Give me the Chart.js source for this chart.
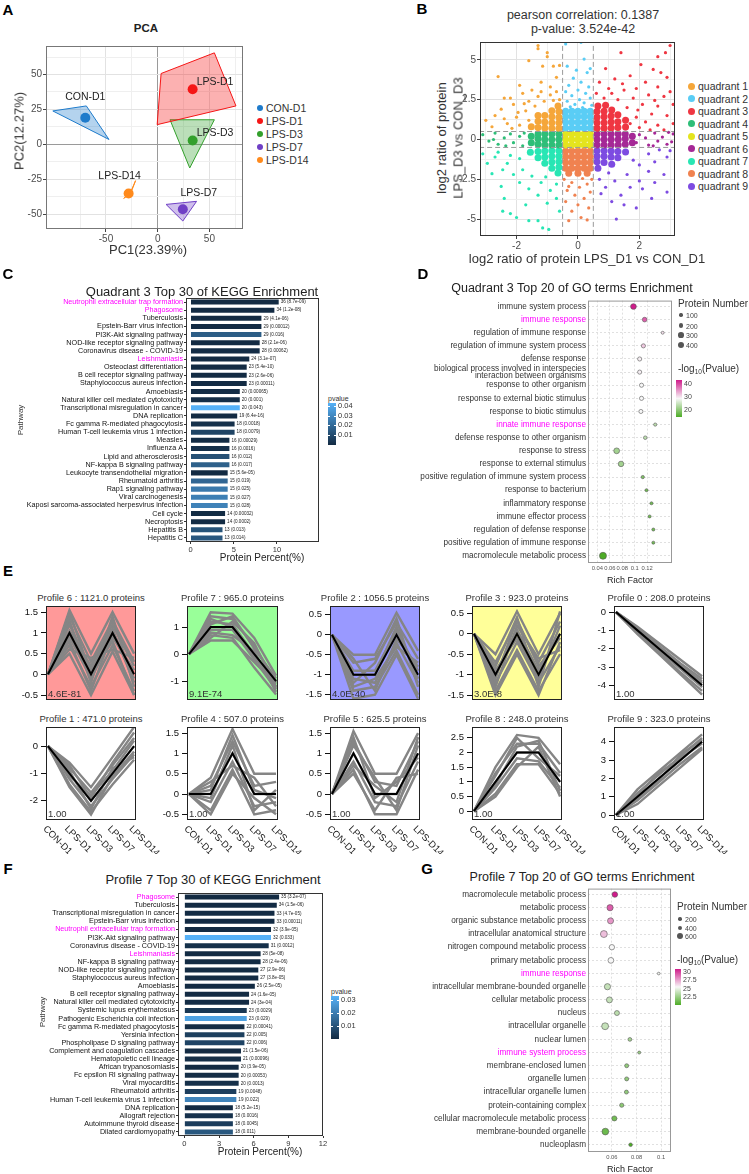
<!DOCTYPE html>
<html>
<head>
<meta charset="utf-8">
<title>Proteomics panels</title>
<script src="https://cdn.jsdelivr.net/npm/chart.js"></script>
<style>
  body { margin: 0; background: #fff; }
  #page { position: relative; width: 749px; height: 1174px; overflow: hidden; font-family: "Liberation Sans", Arial, sans-serif; color: #222; }
  .t { position: absolute; white-space: nowrap; line-height: 1; }
  .t sub { font-size: 65%; vertical-align: -2px; }
  .blk { position: absolute; }
</style>
</head>
<body>
<div id="page"></div>
<script>
// ---------- A: PCA ----------
const pcaGroups = ['CON-D1', 'LPS-D1', 'LPS-D3', 'LPS-D7', 'LPS-D14'];
const pcaPC1 = [-70, 33.8, 33.8, 24.3, -28.1];
const pcaPC2 = [19, 39.4, 2.8, -46.5, -35.2];
const pcaHulls = [
  [[-101.4, 23.9], [-69, 27.5], [-47.1, 3.5]],
  [[3.3, 50.7], [54.8, 65.5], [75.7, 27.5], [-0.5, 14.1]],
  [[11.9, 17.6], [54.8, 17.6], [31, -16.9]],
  [[8.1, -43], [37.6, -40.8], [24.3, -54.9]],
  [[-21.4, -26], [-25.5, -34], [-32.9, -38.7], [-27, -35.5]]
];

// ---------- B: quadrant scatter ----------
const quadNames = ['quadrant 1', 'quadrant 2', 'quadrant 3', 'quadrant 4', 'quadrant 5', 'quadrant 6', 'quadrant 7', 'quadrant 8', 'quadrant 9'];
const q1 = [[-1.3,5.9],[-1.3,5.7],[-1.0,5.45],[-1.0,5.2],[-1.6,4.95],[-1.15,4.6],[-0.8,4.6],[-0.6,4.65],[-2.6,3.95],[-1.9,3.4],[-2.4,2.6],[-2.2,2.6],[-3.0,1.2],[-2.7,1.5],[-2.5,1.9],[-2.1,2.2],[-1.8,2.9],[-1.5,3.1],[-1.2,3.6],[-0.9,3.3],[-0.7,3.9],[-1.6,2.4],[-1.3,2.7],[-2.8,0.8],[-2.3,1.0],[-2.0,1.4],[-1.7,1.8],[-1.4,2.1],[-1.1,2.4],[-0.9,2.8],[-0.6,2.5],[-0.7,3.0],[-1.9,0.9],[-1.6,1.2],[-2.4,1.3],[-1.95,1.7],[-1.2,3.0],[-1.75,2.25],[-0.8,2.45],[-2.15,0.7]];
const q1Dense = [[-0.62,0.7],[-0.85,0.7],[-1.08,0.72],[-1.3,0.75],[-1.52,0.8],[-0.62,1.05],[-0.85,1.05],[-1.08,1.1],[-1.3,1.15],[-0.62,1.4],[-0.85,1.42],[-1.08,1.5],[-0.62,1.75],[-0.85,1.8],[-0.65,2.1],[-1.3,1.5]];
const q2 = [[-0.4,6.0],[0.1,6.1],[0.2,5.05],[-0.35,4.6],[-0.05,4.35],[0.4,4.45],[0.3,4.2],[-0.15,3.85],[0.1,3.6],[-0.3,3.4],[0.35,3.3],[0.0,3.1],[-0.4,3.0],[0.25,2.9],[-0.2,2.75],[0.4,2.6],[0.05,2.5],[-0.35,2.4],[0.2,2.3],[-0.1,2.2],[0.45,2.15],[-0.25,2.05],[0.15,2.0]];
const q2Dense = [[-0.4,0.72],[-0.2,0.72],[0,0.72],[0.2,0.72],[0.4,0.72],[-0.4,1.08],[-0.2,1.08],[0,1.08],[0.2,1.08],[0.4,1.08],[-0.4,1.44],[-0.2,1.44],[0,1.44],[0.2,1.44],[0.4,1.44],[-0.4,1.78],[-0.2,1.78],[0,1.78],[0.2,1.78],[0.4,1.78]];
const q3 = [[3.0,5.9],[2.85,5.45],[2.6,5.2],[2.05,4.7],[1.4,5.45],[0.9,4.45],[2.45,4.4],[2.7,4.2],[2.9,3.9],[1.7,4.0],[1.2,3.8],[0.7,3.6],[2.2,3.6],[2.6,3.3],[3.0,3.0],[1.9,3.2],[1.5,3.1],[1.0,3.2],[0.6,2.9],[2.8,2.7],[2.3,2.8],[1.8,2.6],[1.3,2.5],[0.85,2.6],[3.1,2.2],[2.6,2.1],[2.1,2.2],[1.6,2.0],[2.9,1.5],[2.4,1.6],[1.9,1.4],[3.1,1.0],[2.6,0.9],[2.2,1.1],[2.8,0.6],[1.7,1.0],[2.0,0.75],[1.1,2.9],[2.35,0.6],[1.45,3.5],[2.5,2.45],[1.95,1.85]];
const q3Dense = [[0.62,0.7],[0.85,0.7],[1.08,0.72],[1.3,0.75],[1.55,0.78],[0.62,1.05],[0.85,1.05],[1.08,1.1],[1.3,1.12],[1.55,1.2],[0.62,1.4],[0.85,1.42],[1.08,1.48],[1.3,1.55],[0.62,1.75],[0.85,1.78],[1.1,1.85],[0.65,2.1],[0.9,2.15]];
const q4 = [[-3.1,0.3],[-2.9,-0.1],[-2.7,0.4],[-2.6,-0.3],[-2.4,0.1],[-2.2,0.35],[-2.1,-0.2],[-1.9,0.2],[-1.8,-0.4],[-1.75,0.4],[-2.35,-0.4],[-2.75,0.0]];
const q4Dense = [[-0.62,-0.35],[-0.62,0],[-0.62,0.35],[-0.85,-0.35],[-0.85,0],[-0.85,0.35],[-1.08,-0.35],[-1.08,0],[-1.08,0.35],[-1.3,-0.3],[-1.3,0.05],[-1.3,0.35],[-1.52,-0.2],[-1.52,0.2]];
const q5Dense = [[-0.4,-0.35],[-0.2,-0.35],[0,-0.35],[0.2,-0.35],[0.4,-0.35],[-0.4,0],[-0.2,0],[0,0],[0.2,0],[0.4,0],[-0.4,0.35],[-0.2,0.35],[0,0.35],[0.2,0.35],[0.4,0.35]];
const q6 = [[3.1,0.35],[2.9,-0.3],[2.75,0.15],[2.6,-0.1],[2.5,0.4],[2.3,-0.35],[2.2,0.1],[2.0,0.3],[1.9,-0.2],[2.95,0.45],[2.45,-0.4],[3.05,-0.15]];
const q6Dense = [[0.62,-0.35],[0.62,0],[0.62,0.35],[0.85,-0.35],[0.85,0],[0.85,0.35],[1.08,-0.35],[1.08,0],[1.08,0.35],[1.31,-0.35],[1.31,0],[1.31,0.35],[1.54,-0.3],[1.54,0.05],[1.54,0.35],[1.77,-0.2],[1.77,0.2]];
const q7 = [[-2.95,-1.5],[-2.8,-2.15],[-2.5,-2.95],[-2.4,-3.7],[-2.45,-4.5],[-2.2,-4.65],[-1.7,-4.1],[-1.0,-4.0],[-0.6,-4.5],[-2.0,-4.9],[-1.6,-5.1],[-1.3,-5.1],[-1.15,-5.55],[-0.95,-5.65],[-3.1,-0.9],[-2.7,-1.1],[-2.3,-1.5],[-2.1,-2.2],[-1.9,-2.7],[-1.6,-3.1],[-1.3,-3.5],[-0.9,-3.2],[-0.7,-2.8],[-1.2,-2.7],[-1.8,-1.9],[-1.5,-2.3],[-2.2,-1.0],[-2.6,-0.8],[-1.9,-1.2],[-0.7,-3.7],[-1.05,-2.35],[-2.45,-1.9]];
const q7Dense = [[-0.62,-0.7],[-0.85,-0.7],[-1.08,-0.72],[-1.3,-0.75],[-1.55,-0.8],[-0.62,-1.05],[-0.85,-1.05],[-1.08,-1.1],[-1.3,-1.15],[-0.62,-1.4],[-0.85,-1.42],[-1.08,-1.5],[-0.62,-1.75],[-0.85,-1.8],[-0.65,-2.1]];
const q8 = [[0.1,-4.9],[0.3,-5.05],[-0.3,-5.1],[-0.2,-4.5],[0.35,-4.3],[0.0,-4.1],[-0.4,-3.9],[0.2,-3.7],[-0.1,-3.5],[0.4,-3.3],[-0.35,-3.2],[0.05,-3.0],[0.3,-2.8],[-0.2,-2.7],[0.45,-2.5],[-0.45,-2.5],[0.15,-2.45],[-0.3,-2.95]];
const q8Dense = [[-0.4,-0.72],[-0.2,-0.72],[0,-0.72],[0.2,-0.72],[0.4,-0.72],[-0.4,-1.08],[-0.2,-1.08],[0,-1.08],[0.2,-1.08],[0.4,-1.08],[-0.4,-1.44],[-0.2,-1.44],[0,-1.44],[0.2,-1.44],[0.4,-1.44],[-0.4,-1.8],[-0.2,-1.8],[0,-1.8],[0.2,-1.8],[0.4,-1.8],[-0.3,-2.12],[0,-2.12],[0.3,-2.12]];
const q9 = [[2.9,-3.3],[2.5,-2.7],[2.8,-2.2],[2.3,-2.0],[2.0,-2.6],[1.7,-3.0],[1.4,-3.5],[1.1,-3.9],[1.9,-4.3],[1.25,-5.0],[2.4,-3.7],[0.9,-3.0],[0.7,-2.5],[1.2,-2.6],[1.6,-2.2],[2.0,-1.6],[2.5,-1.4],[2.9,-1.1],[3.0,-0.7],[1.8,-1.3],[1.0,-2.1],[0.75,-3.4],[2.1,-3.1],[1.5,-4.1],[2.3,-0.9],[2.65,-0.65]];
const q9Dense = [[0.62,-0.7],[0.85,-0.7],[1.08,-0.72],[1.3,-0.75],[1.55,-0.78],[0.62,-1.05],[0.85,-1.05],[1.08,-1.1],[1.3,-1.15],[0.62,-1.4],[0.85,-1.45],[1.1,-1.55],[0.65,-1.8]];
const quadSets = [[q1, q1Dense], [q2, q2Dense], [q3, q3Dense], [q4, q4Dense], [[], q5Dense], [q6, q6Dense], [q7, q7Dense], [q8, q8Dense], [q9, q9Dense]];
const cutX = [-0.5, 0.5];
const cutY = [-0.5, 0.5];

// ---------- C: quadrant 3 KEGG ----------
const keggC = ['Neutrophil extracellular trap formation', 'Phagosome', 'Tuberculosis', 'Epstein-Barr virus infection', 'PI3K-Akt signaling pathway', 'NOD-like receptor signaling pathway', 'Coronavirus disease - COVID-19', 'Leishmaniasis', 'Osteoclast differentiation', 'B cell receptor signaling pathway', 'Staphylococcus aureus infection', 'Amoebiasis', 'Natural killer cell mediated cytotoxicity', 'Transcriptional misregulation in cancer', 'DNA replication', 'Fc gamma R-mediated phagocytosis', 'Human T-cell leukemia virus 1 infection', 'Measles', 'Influenza A', 'Lipid and atherosclerosis', 'NF-kappa B signaling pathway', 'Leukocyte transendothelial migration', 'Rheumatoid arthritis', 'Rap1 signaling pathway', 'Viral carcinogenesis', 'Kaposi sarcoma-associated herpesvirus infection', 'Cell cycle', 'Necroptosis', 'Hepatitis B', 'Hepatitis C'];
const keggCCount = [36, 34, 29, 29, 29, 28, 28, 24, 23, 23, 23, 20, 20, 20, 19, 18, 18, 16, 16, 16, 16, 15, 15, 15, 15, 15, 14, 14, 13, 13];
const keggCPct = [10.2, 9.7, 8.2, 8.2, 8.2, 8.0, 8.0, 6.8, 6.5, 6.5, 6.5, 5.7, 5.7, 5.7, 5.4, 5.1, 5.1, 4.5, 4.5, 4.5, 4.5, 4.3, 4.3, 4.3, 4.3, 4.3, 4.0, 4.0, 3.7, 3.7];
const keggCP = ['8.7e-09', '1.2e-08', '4.1e-06', '0.00012', '0.016', '2.1e-06', '0.00062', '3.1e-07', '5.4e-10', '2.6e-06', '0.00011', '0.00065', '0.001', '0.043', '6.4e-16', '0.0018', '0.0079', '0.00029', '0.0016', '0.012', '0.017', '5.6e-05', '0.019', '0.025', '0.027', '0.028', '0.00032', '0.0002', '0.013', '0.014'];
const keggCHighlight = [0, 1, 7];
const keggCTicks = [0, 5, 10];

// ---------- D: quadrant 3 GO ----------
const goD = ['immune system process', 'immune response', 'regulation of immune response', 'regulation of immune system process', 'defense response', ['biological process involved in interspecies', 'interaction between organisms'], 'response to other organism', 'response to external biotic stimulus', 'response to biotic stimulus', 'innate immune response', 'defense response to other organism', 'response to stress', 'response to external stimulus', 'positive regulation of immune system process', 'response to bacterium', 'inflammatory response', 'immune effector process', 'regulation of defense response', 'positive regulation of immune response', 'macromolecule metabolic process'];
const goDRich = [0.098, 0.116, 0.145, 0.114, 0.108, 0.108, 0.111, 0.111, 0.110, 0.133, 0.117, 0.071, 0.078, 0.113, 0.119, 0.127, 0.124, 0.130, 0.130, 0.049];
const goDNum = [300, 200, 80, 160, 160, 160, 160, 160, 155, 95, 120, 310, 280, 100, 85, 85, 85, 85, 85, 450];
const goDLogP = [42.3, 38, 29.5, 31, 28.5, 28.5, 28, 28, 28, 23, 23, 21, 21, 18, 17, 17, 17, 17, 17, 13.8];
const goDHighlight = [1, 9];
const goDTicks = [0.04, 0.06, 0.08, 0.1, 0.12];

// ---------- E: expression profiles ----------
const timePoints = ['CON-D1', 'LPS-D1', 'LPS-D3', 'LPS-D7', 'LPS-D14'];
const profTitles = ['Profile 6 : 1121.0 proteins', 'Profile 7 : 965.0 proteins', 'Profile 2 : 1056.5 proteins', 'Profile 3 : 923.0 proteins', 'Profile 0 : 208.0 proteins', 'Profile 1 : 471.0 proteins', 'Profile 4 : 507.0 proteins', 'Profile 5 : 625.5 proteins', 'Profile 8 : 248.0 proteins', 'Profile 9 : 323.0 proteins'];
const profP = ['4.6E-81', '9.1E-74', '4.0E-40', '3.0E-8', '1.00', '1.00', '1.00', '1.00', '1.00', '1.00'];
const profMean = [[0,1,0,1,0],[0,1,1,0,-1],[0,-1,-1,0,-1],[0,-1,0,-1,0],[0,-1,-2,-3,-4],[0,-1,-2,-1,0],[0,0,1,0,0],[0,1,0,0,1],[0,1,2,2,1],[0,1,2,3,4]];
const profMembers = [
  [[0,1.55,0.5,1.5,0.5],[0,1.4,0.3,1.3,0.3],[0,1.2,0.1,1.1,-0.2],[0,0.9,-0.1,0.9,0.1],[0,0.7,-0.3,0.7,-0.4],[0,0.5,-0.5,0.55,-0.5],[0,1.3,-0.2,1.4,-0.3],[0,0.6,0.4,0.6,0.4],[0,1.05,0.2,1.2,0.2],[0,0.8,-0.4,1.0,-0.1],[0,1.5,0.0,0.8,-0.5]],
  [[0,1.55,1.5,0.6,-0.8],[0,1.4,1.3,0.3,-1.0],[0,1.2,1.1,0,-1.2],[0,0.9,0.9,-0.2,-1.3],[0,0.7,0.6,-0.5,-1.5],[0,0.5,0.5,-0.3,-1.1],[0,1.1,1.4,0.2,-0.9],[0,0.8,0.7,0.1,-1.4],[0,1.3,1.0,-0.1,-1.05],[0,0.6,1.2,0.4,-1.25]],
  [[0,-0.5,-0.5,0.55,-0.4],[0,-0.7,-0.6,0.3,-0.6],[0,-0.9,-0.9,0.1,-0.9],[0,-1.1,-1.2,-0.2,-1.2],[0,-1.4,-1.3,-0.4,-1.5],[0,-1.6,-1.5,-0.5,-1.6],[0,-1.2,-0.7,0.4,-1.3],[0,-0.6,-1.4,-0.1,-0.8],[0,-1.0,-1.0,0.2,-1.1],[0,-1.3,-1.1,-0.3,-0.7]],
  [[0,-0.5,0.55,-0.5,0.5],[0,-0.7,0.3,-0.7,0.3],[0,-1.0,0.1,-0.9,0],[0,-1.2,-0.2,-1.2,-0.3],[0,-1.4,-0.4,-1.4,-0.5],[0,-1.5,-0.5,-1.5,-0.2],[0,-0.8,0.4,-1.3,0.55],[0,-1.3,0.2,-0.6,-0.4],[0,-0.9,-0.1,-1.1,0.2],[0,-1.1,0.35,-0.8,-0.1]],
  [[0,-0.8,-1.7,-2.6,-3.5],[0,-1.0,-1.9,-2.9,-3.8],[0,-1.1,-2.1,-3.1,-4.1],[0,-1.2,-2.3,-3.4,-4.5],[0,-0.9,-2.0,-3.0,-3.9],[0,-1.1,-2.2,-3.3,-4.3],[0,-0.85,-1.85,-2.8,-3.65]],
  [[0,-0.6,-1.5,-0.4,0.7],[0,-0.8,-1.7,-0.7,0.3],[0,-1.0,-2.0,-1.0,0],[0,-1.2,-2.2,-1.2,-0.3],[0,-1.4,-2.4,-1.4,-0.5],[0,-1.5,-2.5,-1.1,-0.2],[0,-0.7,-1.9,-0.6,0.5],[0,-1.1,-1.8,-0.9,0.2],[0,-0.9,-2.3,-0.8,-0.4]],
  [[0,0.4,1.6,0.5,0.5],[0,0.2,1.3,0.2,0.3],[0,0,1.0,0,0],[0,-0.2,0.8,-0.3,-0.2],[0,-0.4,0.6,-0.5,-0.4],[0,-0.5,0.5,-0.1,-0.5],[0,0.3,0.7,0.4,-0.3],[0,-0.1,1.2,-0.4,0.1],[0,0.1,1.45,0.1,-0.1]],
  [[0,1.55,0.5,0.5,1.5],[0,1.3,0.3,0.2,1.3],[0,1.0,0,0,1.0],[0,0.8,-0.2,-0.3,0.8],[0,0.6,-0.5,-0.5,0.6],[0,0.5,-0.4,0.4,0.5],[0,1.2,0.4,-0.4,1.2],[0,1.4,-0.1,0.3,0.9],[0,0.7,0.2,-0.2,1.4]],
  [[0,1.5,2.6,2.5,1.6],[0,1.3,2.3,2.3,1.3],[0,1.0,2.0,2.0,1.0],[0,0.8,1.8,1.7,0.8],[0,0.6,1.6,1.6,0.6],[0,0.5,1.5,2.2,0.5],[0,1.2,2.5,1.8,1.2],[0,0.9,2.2,2.4,0.7]],
  [[0,1.4,2.4,3.4,4.4],[0,1.2,2.2,3.2,4.2],[0,1.0,2.0,3.0,4.0],[0,0.8,1.8,2.8,3.7],[0,0.6,1.6,2.6,3.6],[0,1.1,2.3,3.1,3.9],[0,0.9,1.9,3.3,4.1]]
];
const profYTicks = [[-0.5,0,0.5,1,1.5],[-1,0,1],[-1.5,-1,-0.5,0,0.5],[-1.5,-1,-0.5,0,0.5],[-4,-3,-2,-1,0],[-2,-1,0],[-0.5,0,0.5,1,1.5],[-0.5,0,0.5,1,1.5],[0,0.5,1,1.5,2,2.5],[0,1,2,3,4]];

// ---------- F: profile 7 KEGG ----------
const keggF = ['Phagosome', 'Tuberculosis', 'Transcriptional misregulation in cancer', 'Epstein-Barr virus infection', 'Neutrophil extracellular trap formation', 'PI3K-Akt signaling pathway', 'Coronavirus disease - COVID-19', 'Leishmaniasis', 'NF-kappa B signaling pathway', 'NOD-like receptor signaling pathway', 'Staphylococcus aureus infection', 'Amoebiasis', 'B cell receptor signaling pathway', 'Natural killer cell mediated cytotoxicity', 'Systemic lupus erythematosus', 'Pathogenic Escherichia coli infection', 'Fc gamma R-mediated phagocytosis', 'Yersinia infection', 'Phospholipase D signaling pathway', 'Complement and coagulation cascades', 'Hematopoietic cell lineage', 'African trypanosomiasis', 'Fc epsilon RI signaling pathway', 'Viral myocarditis', 'Rheumatoid arthritis', 'Human T-cell leukemia virus 1 infection', 'DNA replication', 'Allograft rejection', 'Autoimmune thyroid disease', 'Dilated cardiomyopathy'];
const keggFCount = [35, 34, 33, 33, 32, 32, 31, 28, 28, 27, 27, 26, 24, 24, 23, 23, 22, 22, 22, 21, 21, 20, 20, 20, 19, 19, 18, 18, 18, 18];
const keggFPct = [8.2, 8.0, 7.8, 7.8, 7.5, 7.5, 7.3, 6.6, 6.6, 6.4, 6.4, 6.1, 5.6, 5.6, 5.4, 5.4, 5.2, 5.2, 5.2, 4.9, 4.9, 4.7, 4.7, 4.7, 4.5, 4.5, 4.2, 4.2, 4.2, 4.2];
const keggFP = ['3.2e-07', '1.5e-06', '4.7e-05', '0.00011', '3.9e-05', '0.033', '0.0012', '5e-08', '2.4e-06', '2.9e-06', '3.8e-05', '2.5e-05', '1.6e-05', '3e-04', '0.0029', '0.029', '0.00041', '0.005', '0.006', '1.5e-06', '0.00096', '3.9e-05', '0.00053', '0.0013', '0.0048', '0.022', '5.2e-15', '0.0016', '0.0045', '0.011'];
const keggFHighlight = [0, 4, 7];
const keggFTicks = [0, 3, 6, 9, 12];

// ---------- G: profile 7 GO ----------
const goG = ['macromolecule metabolic process', 'metabolic process', 'organic substance metabolic process', 'intracellular anatomical structure', 'nitrogen compound metabolic process', 'primary metabolic process', 'immune response', 'intracellular membrane-bounded organelle', 'cellular metabolic process', 'nucleus', 'intracellular organelle', 'nuclear lumen', 'immune system process', 'membrane-enclosed lumen', 'organelle lumen', 'intracellular organelle lumen', 'protein-containing complex', 'cellular macromolecule metabolic process', 'membrane-bounded organelle', 'nucleoplasm'];
const goGRich = [0.0624, 0.0585, 0.0589, 0.0535, 0.0600, 0.0592, 0.098, 0.0564, 0.0580, 0.0641, 0.0545, 0.0746, 0.0822, 0.0720, 0.0720, 0.0718, 0.0680, 0.0620, 0.0547, 0.0752];
const goGNum = [520, 650, 620, 800, 480, 560, 120, 650, 600, 420, 800, 240, 150, 270, 270, 270, 300, 430, 760, 220];
const goGLogP = [30.6, 29, 27.6, 26.6, 25.2, 25.2, 25, 23.6, 23.6, 23.3, 23.6, 22.6, 22.3, 22, 22, 22, 21.8, 21, 20.8, 19.8];
const goGHighlight = [6, 12];
const goGTicks = [0.06, 0.08, 0.1];

// ---------- helpers ----------
const page = document.getElementById('page');
Chart.defaults.font.family = '"Liberation Sans", Arial, sans-serif';
Chart.defaults.color = '#333';

function txt(s, x, y, o = {}) {
  const d = document.createElement('div');
  d.className = 't';
  d.innerHTML = s;
  const ax = o.align === 'left' ? '0' : (o.align === 'right' ? '-100%' : '-50%');
  d.style.left = x + 'px';
  d.style.top = y + 'px';
  d.style.fontSize = (o.size || 10) + 'px';
  d.style.color = o.color || '#222';
  if (o.bold) d.style.fontWeight = 'bold';
  d.style.transform = `translate(${ax},-50%)` + (o.rot ? ` rotate(${o.rot}deg)` : '');
  page.appendChild(d);
}
function blk(x, y, w, h, bg, round) {
  const d = document.createElement('div');
  d.className = 'blk';
  d.style.cssText = `left:${x}px;top:${y}px;width:${w}px;height:${h}px;background:${bg};` + (round ? 'border-radius:50%;' : '');
  page.appendChild(d);
}
function rgb(h) { return [1, 3, 5].map(i => parseInt(h.substr(i, 2), 16)); }
function mix(a, b, t) {
  t = Math.max(0, Math.min(1, t));
  const A = rgb(a), B = rgb(b);
  return 'rgb(' + A.map((v, i) => Math.round(v + (B[i] - v) * t)).join(',') + ')';
}
function blues(p, pmax) { return mix('#132B43', '#56B1F7', p / pmax); }
function piyg(v, lo, mid, hi) {
  return v < mid ? mix('#4DAC26', '#F7F7F7', (v - lo) / (mid - lo)) : mix('#F7F7F7', '#D01C8B', (v - mid) / (hi - mid));
}
function fixTicks(list) { return s => { s.ticks = list.map(v => ({ value: v })); }; }

// frame + panel background
Chart.register({
  id: 'frame',
  beforeDraw(ch, a, o) {
    if (!o.bg) return;
    const r = ch.chartArea, c = ch.ctx;
    c.save(); c.fillStyle = o.bg; c.fillRect(r.left, r.top, r.right - r.left, r.bottom - r.top); c.restore();
  },
  afterDatasetsDraw(ch, a, o) {
    if (!o.color) return;
    const r = ch.chartArea, c = ch.ctx;
    c.save(); c.strokeStyle = o.color; c.lineWidth = o.width || 1;
    c.strokeRect(r.left + 0.5, r.top + 0.5, r.right - r.left - 1, r.bottom - r.top - 1);
    c.restore();
  }
});

// plot = [left, top, right, bottom] of the panel area on the page, m = margins [l, t, r, b]
function chartAt(plot, m, cfg) {
  const [l, t, r, b] = plot;
  const w = r - l + m[0] + m[2], h = b - t + m[1] + m[3];
  const cv = document.createElement('canvas');
  cv.width = w; cv.height = h;
  cv.style.cssText = `position:absolute;left:${l - m[0]}px;top:${t - m[1]}px;width:${w}px;height:${h}px;`;
  page.appendChild(cv);
  const o = cfg.options;
  o.responsive = false;
  o.animation = false;
  o.events = [];
  o.devicePixelRatio = 1;
  o.layout = { padding: { left: 0, top: m[1], right: m[2], bottom: 0 } };
  o.plugins = Object.assign({ legend: { display: false }, tooltip: { enabled: false } }, o.plugins || {});
  o.scales.x.afterFit = s => { s.height = m[3]; s.paddingLeft = 0; s.paddingRight = 0; };
  o.scales.y.afterFit = s => { s.width = m[0]; s.paddingTop = 0; s.paddingBottom = 0; };
  return new Chart(cv, cfg);
}

// ================= A =================
const pcaColors = ['#1E7BCB', '#F51616', '#33A02C', '#6F3FC5', '#FF8A1C'];
const pcaLabelPos = [[0, -21, 'center'], [4, -7, 'left'], [4, -7, 'left'], [16, -16, 'center'], [-9, -17, 'center']];
chartAt([46, 43, 246, 229], [46, 2, 2, 22], {
  type: 'scatter',
  data: {
    datasets: [{
      data: pcaPC1.map((v, i) => ({ x: v, y: pcaPC2[i] })),
      pointRadius: 5, pointBackgroundColor: pcaColors, pointBorderWidth: 0
    }].concat(pcaHulls.map((h, i) => ({
      type: 'line',
      data: h.concat([h[0]]).map(p => ({ x: p[0], y: p[1] })),
      borderColor: pcaColors[i], borderWidth: 1, backgroundColor: pcaColors[i] + '55',
      fill: 'shape', pointRadius: 0, tension: 0
    })))
  },
  options: {
    scales: {
      x: {
        type: 'linear', min: -108, max: 82.5, afterBuildTicks: fixTicks([-75, -50, -25, 0, 25, 50, 75]),
        ticks: { callback: v => (v % 50 === 0 ? String(v) : ''), font: { size: 10 }, color: '#4d4d4d', padding: 1, maxRotation: 0 },
        grid: { color: c => (c.tick.value === 0 ? '#9a9a9a' : (c.tick.value % 50 === 0 ? '#e2e2e2' : '#efefef')), tickColor: c => (c.tick.value % 50 === 0 ? '#444' : 'transparent'), tickLength: 3 },
        border: { display: false }
      },
      y: {
        type: 'linear', min: -60.6, max: 70.4, afterBuildTicks: fixTicks([-50, -37.5, -25, -12.5, 0, 12.5, 25, 37.5, 50, 62.5]),
        ticks: { callback: v => (v % 25 === 0 ? String(v) : ''), font: { size: 10 }, color: '#4d4d4d', padding: 1 },
        grid: { color: c => (c.tick.value === 0 ? '#9a9a9a' : (c.tick.value % 25 === 0 ? '#e2e2e2' : '#efefef')), tickColor: c => (c.tick.value % 25 === 0 ? '#444' : 'transparent'), tickLength: 3 },
        border: { display: false }
      }
    },
    plugins: { frame: { color: '#777', width: 1 } }
  },
  plugins: [{
    id: 'pcaLabels',
    afterDatasetsDraw(ch) {
      const c = ch.ctx, sx = ch.scales.x, sy = ch.scales.y;
      c.save(); c.font = '10.5px "Liberation Sans"'; c.fillStyle = '#222'; c.textBaseline = 'middle';
      pcaGroups.forEach((g, i) => {
        const p = pcaLabelPos[i];
        c.textAlign = p[2];
        c.fillText(g, sx.getPixelForValue(pcaPC1[i]) + p[0], sy.getPixelForValue(pcaPC2[i]) + p[1]);
      });
      c.restore();
    }
  }]
});
txt('A', 8, 9, { size: 15, bold: true, color: '#000' });
txt('PCA', 146, 29, { size: 11.5, bold: true });
txt('PC2(12.27%)', 19, 131, { size: 13, rot: -90, color: '#333' });
txt('PC1(23.39%)', 148, 249, { size: 13, color: '#333' });
pcaGroups.forEach((g, i) => {
  const y = 108 + i * 13;
  blk(256.7, y - 3.3, 6.6, 6.6, pcaColors[i], true);
  txt(g, 266, y, { size: 10.5, align: 'left', color: '#333' });
});

// ================= B =================
const quadColors = ['#F5A63A', '#5ACDF5', '#EF3642', '#2EBE78', '#E4E41E', '#A52896', '#28E6B4', '#F08250', '#7D4BE1'];
const quadDatasets = [];
quadSets.forEach((qs, i) => {
  quadDatasets.push({ data: qs[0].map(p => ({ x: p[0], y: p[1] })), pointRadius: 1.6, pointBackgroundColor: quadColors[i], pointBorderWidth: 0 });
  quadDatasets.push({ data: qs[1].map(p => ({ x: p[0], y: p[1] })), pointRadius: 3.5, pointBackgroundColor: quadColors[i], pointBorderWidth: 0 });
});
const cutLines = cutX.map(v => [{ x: v, y: -8 }, { x: v, y: 8 }]).concat(cutY.map(v => [{ x: -4, y: v }, { x: 4, y: v }]));
chartAt([480, 40, 677, 236], [22, 2, 2, 20], {
  type: 'scatter',
  data: {
    datasets: cutLines.map(d => ({ type: 'line', data: d, borderColor: '#9a9a9a', borderWidth: 1, borderDash: [5, 3], pointRadius: 0 })).concat(quadDatasets)
  },
  options: {
    scales: {
      x: {
        type: 'linear', min: -3.19, max: 3.16, afterBuildTicks: fixTicks([-3, -2, -1, 0, 1, 2, 3]),
        ticks: { callback: v => (v % 2 === 0 ? String(v) : ''), font: { size: 10 }, color: '#4d4d4d', padding: 1, maxRotation: 0 },
        grid: { color: c => (c.tick.value % 2 === 0 ? '#e2e2e2' : '#efefef'), tickColor: c => (c.tick.value % 2 === 0 ? '#444' : 'transparent'), tickLength: 3 },
        border: { display: false }
      },
      y: {
        type: 'linear', min: -6.06, max: 6.12, afterBuildTicks: fixTicks([-5, -3.75, -2.5, -1.25, 0, 1.25, 2.5, 3.75, 5]),
        ticks: { callback: v => (v % 2.5 === 0 ? String(v) : ''), font: { size: 10 }, color: '#4d4d4d', padding: 1 },
        grid: { color: c => (c.tick.value % 2.5 === 0 ? '#e2e2e2' : '#efefef'), tickColor: c => (c.tick.value % 2.5 === 0 ? '#444' : 'transparent'), tickLength: 3 },
        border: { display: false }
      }
    },
    plugins: { frame: { color: '#333', width: 1 } }
  }
});
txt('B', 422, 8, { size: 15, bold: true, color: '#000' });
txt('pearson correlation: 0.1387', 583, 15, { size: 12.5, color: '#333' });
txt('p-value: 3.524e-42', 583, 29, { size: 12.5, color: '#333' });
txt('log2 ratio of protein', 441, 138, { size: 13, rot: -90, color: '#333' });
txt('LPS_D3 vs CON_D3', 458, 138, { size: 13, rot: -90, color: '#333' });
txt('log2 ratio of protein LPS_D1 vs CON_D1', 587, 258, { size: 13, color: '#333' });
quadNames.forEach((q, i) => {
  const y = 86 + i * 12.5;
  blk(687.5, y - 3.5, 7, 7, quadColors[i], true);
  txt(q, 698, y, { size: 10.5, align: 'left', color: '#333' });
});

// ================= C & F: KEGG bars =================
function barText(counts, pstr) {
  return {
    id: 'barText',
    afterDatasetsDraw(ch) {
      const c = ch.ctx;
      c.save(); c.font = '4.6px "Liberation Sans"'; c.fillStyle = '#222'; c.textBaseline = 'middle';
      ch.getDatasetMeta(0).data.forEach((b, i) => c.fillText(counts[i] + ' (' + pstr[i] + ')', b.x + 2, b.y));
      c.restore();
    }
  };
}
function keggPanel(plot, names, pct, counts, pstr, hl, pmax, xr, xt) {
  chartAt(plot, [plot[0], 2, 8, 12], {
    type: 'bar',
    data: {
      labels: names,
      datasets: [{ data: pct, backgroundColor: pstr.map(s => blues(Number(s), pmax)), barPercentage: 0.62, categoryPercentage: 1 }]
    },
    options: {
      indexAxis: 'y',
      scales: {
        x: {
          type: 'linear', min: xr[0], max: xr[1], afterBuildTicks: fixTicks(xt),
          ticks: { callback: v => String(v), font: { size: 7.5 }, color: '#333', padding: 1, maxRotation: 0 },
          grid: { drawOnChartArea: false, color: 'transparent', tickColor: '#333', tickLength: 2 },
          border: { display: false }
        },
        y: {
          type: 'category',
          ticks: { autoSkip: false, font: { size: 7.2 }, color: c => (hl.includes(c.index) ? '#FF00FF' : '#111'), padding: 1 },
          grid: { offset: false, drawOnChartArea: false, color: 'transparent', tickColor: '#333', tickLength: 2 },
          border: { display: false }
        }
      },
      plugins: { frame: { color: '#333', width: 1 } }
    },
    plugins: [barText(counts, pstr)]
  });
}
function pLegend(x, top, bottom, pmax, ticks) {
  blk(x, top, 8, bottom - top, 'linear-gradient(to top, #132B43, #56B1F7)');
  txt('pvalue', x, top - 5, { size: 7, align: 'left', color: '#333' });
  ticks.forEach(v => {
    const y = bottom - v / pmax * (bottom - top);
    blk(x, y, 2, 0.8, '#fff'); blk(x + 6, y, 2, 0.8, '#fff');
    txt(String(v), x + 10, y, { size: 7.5, align: 'left', color: '#333' });
  });
}

keggPanel([186, 298, 319, 542], keggC, keggCPct, keggCCount, keggCP, keggCHighlight, 0.043, [-0.52, 14.86], keggCTicks);
txt('C', 8, 273, { size: 15, bold: true, color: '#000' });
txt('Quadrant 3 Top 30 of KEGG Enrichment', 202, 291, { size: 13 });
txt('Pathway', 21, 420, { size: 8, rot: -90, color: '#333' });
txt('Protein Percent(%)', 262, 558, { size: 10, color: '#222' });
pLegend(328, 403, 445, 0.043, [0.01, 0.02, 0.03, 0.04]);

keggPanel([178, 893, 323, 1136], keggF, keggFPct, keggFCount, keggFP, keggFHighlight, 0.033, [-0.55, 12.0], keggFTicks);
txt('F', 8, 868, { size: 15, bold: true, color: '#000' });
txt('Profile 7 Top 30 of KEGG Enrichment', 213, 879, { size: 13 });
txt('Pathway', 43, 1012, { size: 8, rot: -90, color: '#333' });
txt('Protein Percent(%)', 260, 1152, { size: 10, color: '#222' });
pLegend(331, 996, 1039, 0.033, [0.01, 0.02, 0.03]);

// ================= D & G: GO bubbles =================
function goPanel(plot, terms, rich, num, logp, hl, xr, xt, k, col) {
  const gridOpt = { color: '#d8d8d8', lineWidth: 0.8, drawTicks: false };
  chartAt(plot, [213, 2, 8, 12], {
    type: 'scatter',
    data: {
      datasets: [{
        data: rich.map((v, i) => ({ x: v, y: i })),
        pointRadius: num.map(n => k * Math.sqrt(n)),
        pointBackgroundColor: logp.map(col),
        pointBorderColor: '#555', pointBorderWidth: 0.6
      }]
    },
    options: {
      scales: {
        x: {
          type: 'linear', min: xr[0], max: xr[1], afterBuildTicks: fixTicks(xt),
          ticks: { callback: v => String(v), font: { size: 5.8 }, color: '#555', padding: 2, maxRotation: 0 },
          grid: gridOpt, border: { display: false, dash: [2, 2] }
        },
        y: {
          type: 'linear', reverse: true, min: -0.45, max: 19.55, afterBuildTicks: fixTicks(terms.map((t, i) => i)),
          ticks: { callback: v => terms[v], autoSkip: false, font: { size: 8.2, lineHeight: 0.85 }, color: c => (hl.includes(c.index) ? '#FF00FF' : '#333'), padding: 2 },
          grid: gridOpt, border: { display: false, dash: [2, 2] }
        }
      },
      plugins: { frame: { color: '#999', width: 1 } }
    }
  });
}
function sizeLegend(x, y, k, vals, ys) {
  txt('Protein Number', x, y, { size: 10, align: 'left', color: '#333' });
  vals.forEach((v, i) => {
    const r = k * Math.sqrt(v);
    blk(x + 3 - r, ys[i] - r, 2 * r, 2 * r, '#555', true);
    txt(String(v), x + 8, ys[i], { size: 7, align: 'left', color: '#444' });
  });
}
function colorLegend(x, y, top, bottom, lo, mid, hi, ticks) {
  txt('-log<sub>10</sub>(Pvalue)', x, y, { size: 10, align: 'left', color: '#333' });
  const midPct = ((mid - lo) / (hi - lo) * 100).toFixed(1);
  blk(x - 2, top, 6, bottom - top, `linear-gradient(to top, #4DAC26 0%, #F7F7F7 ${midPct}%, #D01C8B 100%)`);
  ticks.forEach(v => {
    const ty = bottom - (v - lo) / (hi - lo) * (bottom - top);
    txt(String(v), x + 6, ty, { size: 7, align: 'left', color: '#444' });
  });
}

const dCol = v => piyg(v, 13.8, 28, 42.3);
goPanel([588, 298, 672, 563], goD, goDRich, goDNum, goDLogP, goDHighlight, [0.0249, 0.16], goDTicks, 0.165, dCol);
txt('D', 423, 273, { size: 15, bold: true, color: '#000' });
txt('Quadrant 3 Top 20 of GO terms Enrichment', 572, 288, { size: 12.5 });
txt('Rich Factor', 630, 580, { size: 9, color: '#222' });
sizeLegend(678, 304, 0.165, [100, 200, 300, 400], [315, 325.5, 335, 345]);
colorLegend(678, 370, 380, 417, 13.8, 28, 42.3, [20, 30, 40]);

const gCol = v => piyg(v, 19.8, 25.2, 30.6);
goPanel([588, 886, 671, 1152], goG, goGRich, goGNum, goGLogP, goGHighlight, [0.0406, 0.108], goGTicks, 0.122, gCol);
txt('G', 427, 868, { size: 15, bold: true, color: '#000' });
txt('Profile 7 Top 20 of GO terms Enrichment', 582, 877, { size: 12.5 });
txt('Rich Factor', 630, 1169, { size: 9, color: '#222' });
sizeLegend(677, 907, 0.122, [200, 400, 600], [919, 928, 936]);
colorLegend(677, 961, 969, 1005, 19.8, 25.2, 30.6, [22.5, 25, 27.5, 30]);

// ================= E: profiles =================
const profBoxes = [
  [46, 606, 136, 700], [187, 606, 278, 700], [330, 606, 420, 700], [472, 606, 562, 700], [614, 606, 704, 700],
  [46, 727, 136, 820], [187, 727, 278, 820], [330, 727, 420, 820], [472, 727, 562, 820], [614, 727, 704, 820]
];
const profYRange = [[-0.62, 1.65], [-1.7, 1.78], [-1.63, 0.72], [-1.62, 0.68], [-4.8, 0.33], [-2.7, 0.7], [-0.64, 1.65], [-0.64, 1.65], [-0.3, 2.87], [-0.27, 4.8]];
const profBg = ['#FF9999', '#99FF99', '#9999FF', '#FFFF99', null, null, null, null, null, null];
profTitles.forEach((title, i) => {
  const box = profBoxes[i], showX = i >= 5;
  const toPts = arr => arr.map((v, k) => ({ x: k, y: v }));
  chartAt(box, [40, 2, showX ? 32 : 2, showX ? 34 : 2], {
    type: 'scatter',
    data: {
      datasets: [{ data: toPts(profMean[i]), showLine: true, borderColor: '#000', borderWidth: 2, pointRadius: 0 }]
        .concat(profMembers[i].map(m => ({ data: toPts(m), showLine: true, borderColor: '#858585', borderWidth: 2.4, pointRadius: 0 })))
    },
    options: {
      scales: {
        x: { type: 'linear', min: -0.09, max: 4.09, ticks: { display: false }, grid: { display: false }, border: { display: false } },
        y: {
          type: 'linear', min: profYRange[i][0], max: profYRange[i][1], afterBuildTicks: fixTicks(profYTicks[i]),
          ticks: { callback: v => String(v), font: { size: 9.5 }, color: '#111', padding: 3 },
          grid: { drawOnChartArea: false, color: 'transparent', tickColor: '#111', tickLength: 5, tickWidth: 1 },
          border: { display: false }
        }
      },
      plugins: { frame: { color: '#222', width: 1, bg: profBg[i] } }
    },
    plugins: [{
      id: 'profText',
      afterDraw(ch) {
        const c = ch.ctx, r = ch.chartArea;
        c.save();
        c.font = '9.5px "Liberation Sans"'; c.fillStyle = '#333'; c.textBaseline = 'alphabetic';
        c.fillText(profP[i], r.left + 2, r.bottom - 3);
        if (showX) {
          c.textBaseline = 'top'; c.textAlign = 'left'; c.fillStyle = '#222';
          timePoints.forEach((lab, k) => {
            c.save();
            c.translate(ch.scales.x.getPixelForValue(k), r.bottom + 4);
            c.rotate(Math.PI / 4);
            c.fillText(lab, 0, 0);
            c.restore();
          });
        }
        c.restore();
      }
    }]
  });
  txt(title, (box[0] + box[2]) / 2, i < 5 ? 598 : 719, { size: 9.5, color: '#333' });
});
txt('E', 8, 570, { size: 15, bold: true, color: '#000' });
</script>
</body>
</html>
